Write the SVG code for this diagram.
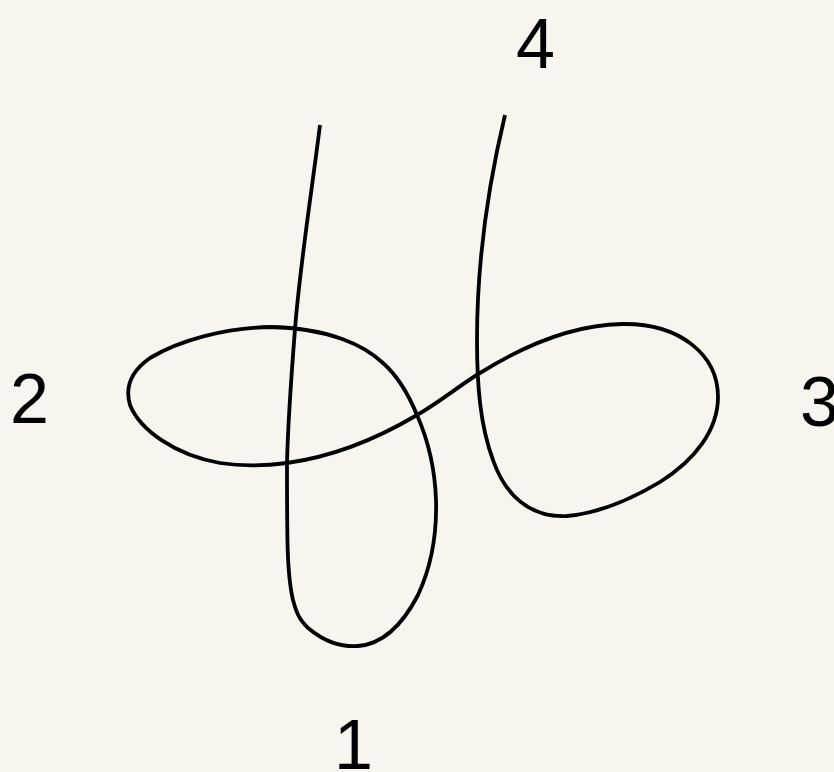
<svg xmlns="http://www.w3.org/2000/svg" width="834" height="772" viewBox="0 0 834 772">
<style>
.lbl{font-family:"Liberation Sans",Arial,sans-serif;font-size:70px;fill:#000}
.knot{fill:none;stroke:#000;stroke-width:3.8;stroke-linejoin:round}
</style>
<rect x="0" y="0" width="834" height="772" fill="#f8f5ef"/>
<g id="curve">
<path class="knot" d="M320,125 C311,197 300,265 295,329 C291,380 288,420 287,463 C287,540 287,575 293,600 C297,615 300,620 308,628 C325,642 340,647 358,646 C385,644 405,620 418,595 C432,565 437,535 436,500 C435,470 428,440 417,415 C410,398 400,378 383,363 C365,346 330,328 270,327 C225,328 180,340 150,358 C130,372 125,388 130,405 C140,430 175,455 220,463 C245,467 265,466 287,463 C330,457 375,440 417,415 C440,402 460,385 480,373 C520,348 570,325 622,324 C680,323 718,355 718,397 C718,430 695,460 660,482 C630,500 600,513 567,516 C530,518 505,495 493,460 C480,425 477,385 477,340 C477,270 487,190 505,115"/>
</g>
<g id="labels">
<text class="lbl" x="516" y="68">4</text>
<text class="lbl" x="10" y="423">2</text>
<text class="lbl" x="800" y="426">3</text>
<text class="lbl" x="334" y="769">1</text>
</g>
</svg>
